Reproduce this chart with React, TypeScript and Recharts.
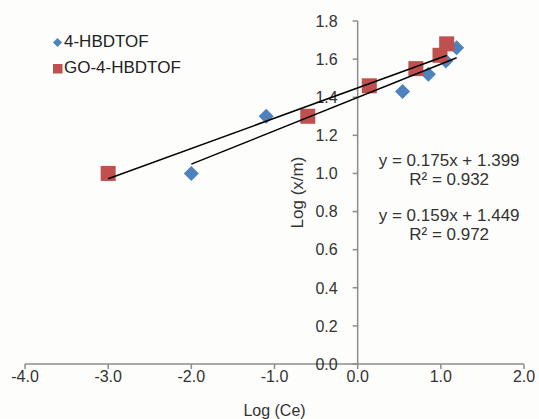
import { ComposedChart, Scatter, XAxis, YAxis, ReferenceLine, ReferenceDot, Legend } from 'recharts';

// values
const xTicks = [-4, -3, -2, -1, 0, 1, 2];
const yTicks = [0, 0.2, 0.4, 0.6, 0.8, 1.0, 1.2, 1.4, 1.6, 1.8];

const hbdtof = [
  { x: -2.0, y: 1.0 },
  { x: -1.1, y: 1.3 },
  { x: 0.54, y: 1.43 },
  { x: 0.85, y: 1.52 },
  { x: 1.06, y: 1.59 },
  { x: 1.19, y: 1.66 },
];

const goHbdtof = [
  { x: -3.0, y: 1.0 },
  { x: -0.6, y: 1.3 },
  { x: 0.14, y: 1.46 },
  { x: 0.7, y: 1.55 },
  { x: 0.99, y: 1.62 },
  { x: 1.07, y: 1.68 },
];

// trend line end points (from the printed equations)
const hbdtofTrend = [
  { x: -2.0, y: 1.049 },
  { x: 1.19, y: 1.607 },
];
const goTrend = [
  { x: -3.0, y: 0.972 },
  { x: 1.07, y: 1.619 },
];

const equations = ['y = 0.175x + 1.399', 'R² = 0.932', 'y = 0.159x + 1.449', 'R² = 0.972'];
const equationOffsets = [0, 19, 55, 74];

const BLUE = '#4F81BD';
const RED = '#C0504D';
const AXIS = '#8c8c8c';
const TEXT = '#333333';
const FONT = '"Liberation Sans", Arial, sans-serif';

const Diamond = (p: any) => {
  const { cx, cy } = p;
  const h = 7.5;
  return <polygon points={`${cx},${cy - h} ${cx + h},${cy} ${cx},${cy + h} ${cx - h},${cy}`} fill={BLUE} />;
};

const Square = (p: any) => {
  const { cx, cy } = p;
  const h = 7.5;
  return <rect x={cx - h} y={cy - h} width={h * 2} height={h * 2} fill={RED} />;
};

const NoShape = () => <g />;

const renderLegend = () => (
  <div style={{ fontFamily: FONT, fontSize: 17, color: '#222' }}>
    <div style={{ display: 'flex', alignItems: 'center', height: 26 }}>
      <svg width={11} height={11}>
        <polygon points="5.5,1 10,5.5 5.5,10 1,5.5" fill={BLUE} />
      </svg>
      <span style={{ marginLeft: 1 }}>4-HBDTOF</span>
    </div>
    <div style={{ display: 'flex', alignItems: 'center', height: 26 }}>
      <svg width={11} height={11}>
        <rect x={1} y={1} width={9.5} height={9.5} fill={RED} />
      </svg>
      <span style={{ marginLeft: 1 }}>GO-4-HBDTOF</span>
    </div>
  </div>
);

export default function App() {
  return (
    <div style={{ position: 'absolute', left: 0, top: 0, width: 539, height: 419, background: '#fdfdfb' }}>
      <ComposedChart width={539} height={419} margin={{ top: 21, right: 15, bottom: 0, left: 25 }}>
        <XAxis
          type="number"
          dataKey="x"
          domain={[-4, 2]}
          ticks={xTicks}
          tickFormatter={(v: number) => v.toFixed(1)}
          stroke={AXIS}
          strokeWidth={1.5}
          tick={{ fill: TEXT, fontSize: 16, fontFamily: FONT }}
          tickSize={5}
          tickMargin={2}
          height={55}
          label={{ value: 'Log (Ce)', position: 'insideBottom', offset: 3, fill: TEXT, fontSize: 16, fontFamily: FONT }}
        />
        <YAxis type="number" dataKey="y" domain={[0, 1.8]} ticks={yTicks} hide />
        <ReferenceLine x={0} stroke={AXIS} strokeWidth={1.5} />
        {yTicks.map((t) => (
          <ReferenceDot
            key={t}
            x={0}
            y={t}
            r={0}
            shape={(p: any) => (
              <g>
                <line x1={p.cx - 5} x2={p.cx} y1={p.cy} y2={p.cy} stroke={AXIS} strokeWidth={1.5} />
                <text x={p.cx - 20} y={p.cy} dy="0.36em" textAnchor="end" fill={TEXT} fontSize={16} fontFamily={FONT}>
                  {t.toFixed(1)}
                </text>
              </g>
            )}
          />
        ))}
        <ReferenceDot
          x={-0.73}
          y={0.9}
          r={0}
          shape={(p: any) => (
            <text
              x={p.cx}
              y={p.cy}
              transform={`rotate(-90 ${p.cx} ${p.cy})`}
              textAnchor="middle"
              dy="0.36em"
              fill={TEXT}
              fontSize={17}
              fontFamily={FONT}
            >
              Log (x/m)
            </text>
          )}
        />
        <Scatter name="4-HBDTOF" data={hbdtof} shape={Diamond} isAnimationActive={false} />
        <Scatter name="GO-4-HBDTOF" data={goHbdtof} shape={Square} isAnimationActive={false} />
        <Scatter
          data={hbdtofTrend}
          line={{ stroke: '#000', strokeWidth: 1.5 }}
          shape={NoShape}
          legendType="none"
          isAnimationActive={false}
        />
        <Scatter
          data={goTrend}
          line={{ stroke: '#000', strokeWidth: 1.5 }}
          shape={NoShape}
          legendType="none"
          isAnimationActive={false}
        />
        <ReferenceDot
          x={1.1}
          y={1.07}
          r={0}
          shape={(p: any) => (
            <g>
              {equations.map((e, i) => (
                <text
                  key={e}
                  x={p.cx}
                  y={p.cy + equationOffsets[i]}
                  dy="0.36em"
                  textAnchor="middle"
                  fill={TEXT}
                  fontSize={17}
                  fontFamily={FONT}
                >
                  {e}
                </text>
              ))}
            </g>
          )}
        />
        <Legend
          layout="vertical"
          align="center"
          verticalAlign="middle"
          wrapperStyle={{ left: 52, top: 29, width: 'auto' }}
          content={renderLegend}
        />
      </ComposedChart>
    </div>
  );
}
